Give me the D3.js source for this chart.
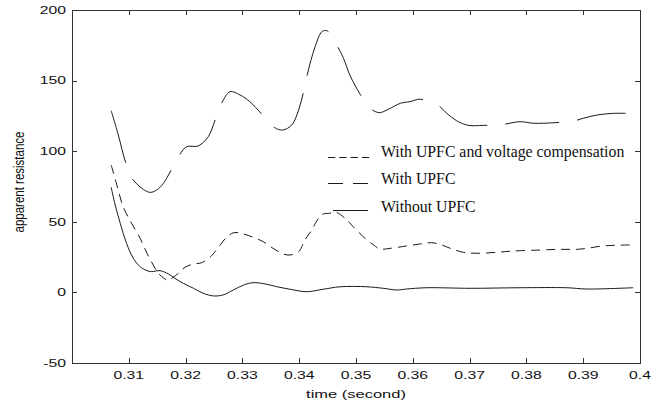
<!DOCTYPE html>
<html>
<head>
<meta charset="utf-8">
<script src="https://cdn.jsdelivr.net/npm/d3@7"></script>
<style>
  body { margin: 0; background: #fff; }
  svg { display: block; }
</style>
</head>
<body>
<svg id="chart" width="668" height="405"></svg>
<script>
// Axis ticks and labels
const xTicks = [0.31, 0.32, 0.33, 0.34, 0.35, 0.36, 0.37, 0.38, 0.39, 0.40];
const xTickLabels = ["0.31", "0.32", "0.33", "0.34", "0.35", "0.36", "0.37", "0.38", "0.39", "0.4"];
const yTicks = [-50, 0, 50, 100, 150, 200];
const yTickLabels = ["-50", "0", "50", "100", "150", "200"];
const legendLabels = ["With UPFC and voltage compensation", "With UPFC", "Without UPFC"];

// With UPFC (long dashes)
const timeUpfc = [0.3069, 0.30815, 0.3095, 0.3108, 0.3136, 0.3149, 0.3161, 0.3174, 0.3189, 0.3202,
  0.3222, 0.3240, 0.3252, 0.3264, 0.3278, 0.3296, 0.3313, 0.3334, 0.3356, 0.3371,
  0.3387, 0.3399, 0.3407, 0.3414, 0.3428, 0.3440, 0.3449, 0.3467, 0.3478, 0.3489,
  0.3498, 0.3507, 0.3525, 0.3541, 0.3557, 0.3578, 0.3595, 0.3613, 0.3642, 0.3660,
  0.3677, 0.3698, 0.3724, 0.3756, 0.3789, 0.3812, 0.3850, 0.3883, 0.3900, 0.3924,
  0.3953, 0.3975];
const resUpfc = [128.7, 111.5, 91.4, 79.6, 70.9, 72.5, 77.3, 86.2, 97.3, 103.2,
  103.7, 110.3, 122.1, 134.4, 142.1, 139.8, 135.1, 126.3, 116.9, 115.0,
  118.6, 129.2, 141.0, 154.0, 174.0, 184.6, 185.3, 174.5, 165.8, 154.0,
  146.9, 140.5, 130.4, 127.3, 129.7, 133.9, 135.1, 136.8, 133.2, 126.8,
  121.6, 118.3, 118.3, 118.8, 120.9, 119.8, 120.2, 121.4, 123.3, 125.6,
  126.8, 126.8];

// With UPFC and voltage compensation (short dashes)
const timeComp = [0.3069, 0.3079, 0.3090, 0.3105, 0.3120, 0.3132, 0.3143, 0.3152, 0.3162, 0.3168,
  0.3176, 0.3187, 0.3199, 0.3214, 0.3228, 0.3243, 0.3261, 0.3272, 0.3285, 0.3302,
  0.3319, 0.3337, 0.3354, 0.3372, 0.3384, 0.3399, 0.3410, 0.3422, 0.3434, 0.3442,
  0.3454, 0.3463, 0.3484, 0.3495, 0.3516, 0.3531, 0.3542, 0.3560, 0.3589, 0.3613,
  0.3633, 0.3651, 0.3666, 0.3689, 0.3713, 0.3748, 0.3777, 0.3824, 0.3859, 0.3889,
  0.3906, 0.3935, 0.3982];
const resComp = [90.2, 76.1, 60.7, 48.9, 38.3, 27.7, 19.4, 13.5, 10.0, 8.3,
  10.0, 13.5, 17.8, 20.1, 21.0, 24.9, 33.6, 39.0, 42.3, 41.4,
  39.0, 35.9, 31.2, 27.2, 26.5, 28.8, 37.1, 44.2, 52.5, 55.5,
  56.0, 57.1, 51.3, 46.5, 38.3, 33.6, 30.7, 31.2, 32.9, 34.3,
  35.2, 33.6, 31.2, 28.4, 27.7, 28.4, 29.3, 30.0, 30.5, 30.5,
  31.2, 32.9, 33.6];

// Without UPFC (solid)
const timeNone = [0.3069, 0.3076, 0.3085, 0.3096, 0.3108, 0.3120, 0.3132, 0.3140, 0.3155, 0.3170,
  0.3181, 0.3196, 0.3214, 0.3231, 0.3249, 0.3266, 0.3284, 0.3302, 0.3319, 0.3340,
  0.3360, 0.3384, 0.3413, 0.3442, 0.3472, 0.3519, 0.3548, 0.3572, 0.3589, 0.3624,
  0.3701, 0.3789, 0.3871, 0.3906, 0.3988];
const resNone = [74.4, 61.9, 48.9, 34.8, 24.1, 18.2, 15.4, 14.7, 15.4, 13.0,
  10.0, 6.4, 2.9, -0.6, -2.5, -1.8, 1.7, 5.2, 6.9, 6.0,
  4.1, 2.2, 0.5, 2.2, 4.0, 4.0, 2.9, 1.7, 2.4, 3.3,
  2.9, 3.3, 3.3, 2.4, 3.3];

const svg = d3.select("#chart");
const plotLeft = 72, plotRight = 640, plotTop = 10, plotBottom = 363;

const x = d3.scaleLinear().domain([0.30, 0.40]).range([plotLeft, plotRight]);
const y = d3.scaleLinear().domain([-50, 200]).range([plotBottom, plotTop]);

const axisColor = "#333";
const lineColor = "#1a1a1a";
const sansFont = "'Liberation Sans', Arial, Helvetica, sans-serif";
const serifFont = "'Liberation Serif', 'Times New Roman', serif";
const stretch = 1.5;

// Frame and inward ticks on all four sides
const tickLen = 5;
const frame = svg.append("g");
frame.append("rect")
  .attr("x", plotLeft).attr("y", plotTop)
  .attr("width", plotRight - plotLeft).attr("height", plotBottom - plotTop)
  .attr("fill", "none").attr("stroke", axisColor).attr("stroke-width", 1)
  .attr("shape-rendering", "crispEdges");

const bottomAxis = d3.axisBottom(x).tickValues(xTicks).tickSize(-tickLen).tickFormat("");
const topAxis = d3.axisTop(x).tickValues(xTicks).tickSize(-tickLen).tickFormat("");
const leftAxis = d3.axisLeft(y).tickValues(yTicks).tickSize(-tickLen).tickFormat("");
const rightAxis = d3.axisRight(y).tickValues(yTicks).tickSize(-tickLen).tickFormat("");

[[bottomAxis, `translate(0,${plotBottom})`], [topAxis, `translate(0,${plotTop})`],
 [leftAxis, `translate(${plotLeft},0)`], [rightAxis, `translate(${plotRight},0)`]].forEach(([ax, tr]) => {
  const g = frame.append("g").attr("transform", tr).call(ax);
  g.select(".domain").remove();
  g.selectAll("line").attr("stroke", axisColor).attr("shape-rendering", "crispEdges");
});

// Tick labels (wide sans glyphs)
const labels = svg.append("g")
  .attr("font-family", sansFont).attr("font-size", 10.5).attr("fill", "#111");

xTicks.forEach((v, i) => {
  labels.append("text")
    .attr("transform", `translate(${x(v)},379) scale(${stretch},1)`)
    .attr("text-anchor", "middle")
    .text(xTickLabels[i]);
});
yTicks.forEach((v, i) => {
  labels.append("text")
    .attr("transform", `translate(66,${y(v) + 3.8}) scale(${stretch},1)`)
    .attr("text-anchor", "end")
    .text(yTickLabels[i]);
});

// Axis titles
svg.append("text")
  .attr("transform", `translate(${(plotLeft + plotRight) / 2},398) scale(${stretch},1)`)
  .attr("text-anchor", "middle")
  .attr("font-family", sansFont).attr("font-size", 11).attr("fill", "#111")
  .text("time (second)");

svg.append("text")
  .attr("transform", `translate(24,182) rotate(-90) scale(1,1.2)`)
  .attr("text-anchor", "middle")
  .attr("font-family", sansFont).attr("font-size", 11.5).attr("fill", "#111")
  .text("apparent resistance");

// Curves
const line = d3.line()
  .x(d => x(d[0]))
  .y(d => y(d[1]))
  .curve(d3.curveCatmullRom.alpha(0.5));

const series = [
  { t: timeComp, r: resComp, dash: "9,6" },
  { t: timeUpfc, r: resUpfc, dash: "54,18" },
  { t: timeNone, r: resNone, dash: null }
];

const curves = svg.append("g");
series.forEach(s => {
  curves.append("path")
    .datum(s.t.map((t, i) => [t, s.r[i]]))
    .attr("d", line)
    .attr("fill", "none")
    .attr("stroke", lineColor)
    .attr("stroke-width", 1)
    .attr("stroke-dasharray", s.dash);
});

// Legend
const legend = svg.append("g");
const legendRows = [
  { baseline: 157, lineY: 157.5, x1: 328, x2: 372, dash: "7.3,4" },
  { baseline: 184, lineY: 183.5, x1: 328, x2: 368, dash: "15,10" },
  { baseline: 212, lineY: 210.5, x1: 333, x2: 368, dash: null }
];
legendRows.forEach((row, i) => {
  legend.append("line")
    .attr("x1", row.x1).attr("x2", row.x2)
    .attr("y1", row.lineY).attr("y2", row.lineY)
    .attr("stroke", lineColor).attr("stroke-width", 1)
    .attr("stroke-dasharray", row.dash);
  legend.append("text")
    .attr("x", 381).attr("y", row.baseline)
    .attr("font-family", serifFont).attr("font-size", 15.8).attr("fill", "#111")
    .text(legendLabels[i]);
});
</script>
</body>
</html>
